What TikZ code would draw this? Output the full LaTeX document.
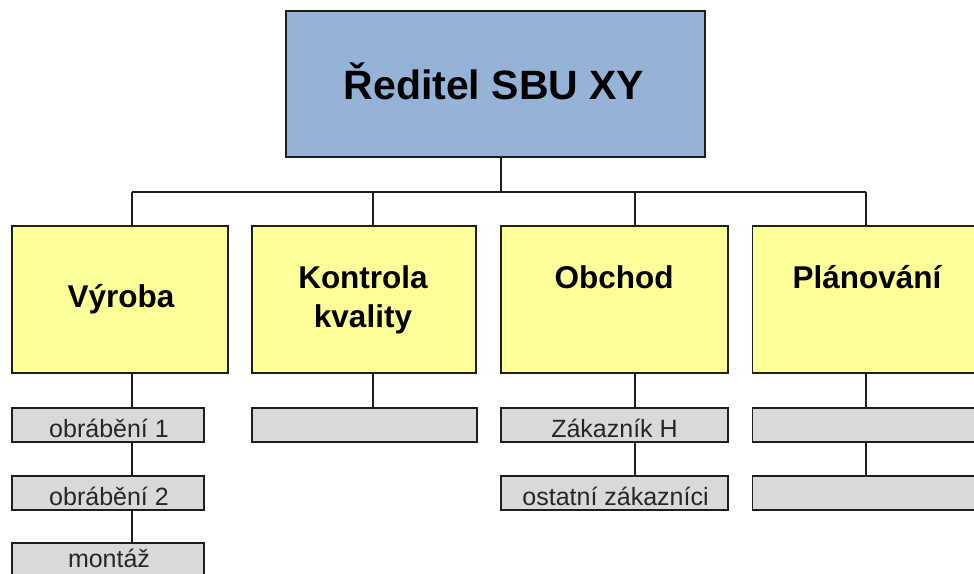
\documentclass[tikz,border=0pt]{standalone}
\usepackage{fontspec}
\setmainfont{Liberation Sans}
\usetikzlibrary{calc}
\definecolor{topblue}{RGB}{149,179,215}
\definecolor{boxyellow}{RGB}{255,255,153}
\definecolor{boxgray}{RGB}{217,217,217}
\definecolor{edge}{RGB}{30,30,30}
\tikzset{
  base/.style={draw=edge, line width=1.8pt, rectangle, inner sep=0pt, outer sep=0pt},
  topbox/.style={base, fill=topblue, minimum width=419pt, minimum height=146pt},
  l2box/.style={base, fill=boxyellow, minimum height=147pt},
  l3box/.style={base, fill=boxgray, minimum height=34pt},
  l2text/.style={font=\bfseries\fontsize{31.5}{42}\selectfont, align=center, inner sep=0pt},
  l3text/.style={font=\fontsize{25}{27}\selectfont, text=black!85, inner sep=0pt},
  conn/.style={draw=edge, line width=1.8pt}
}
\begin{document}
\begin{tikzpicture}[x=1pt,y=-1pt]
\useasboundingbox (0,0) rectangle (974,573);
\clip (0,0) rectangle (974,573);
\fill[white] (0,0) rectangle (974,573);
% drop positions
\coordinate (dtop) at (501,0);
\coordinate (bus) at (0,192);
\coordinate (dA) at (132,0);
\coordinate (dB) at (373,0);
\coordinate (dC) at (635,0);
\coordinate (dD) at (866,0);
% top
\node[topbox] (top) at (495.5,84) {};
\node[font=\bfseries\fontsize{41}{50}\selectfont, inner sep=0pt, anchor=base] at (494,99) {Ředitel SBU XY};
% level 2
\node[l2box, minimum width=216pt] (vyroba) at (120,299.5) {};
\node[l2box, minimum width=224pt] (kontrola) at (364,299.5) {};
\node[l2box, minimum width=227pt] (obchod) at (614.5,299.5) {};
\node[l2box, minimum width=228pt] (plan) at (866.5,299.5) {};
\node[l2text, anchor=base] at (121,307) {Výroba};
\node[l2text, anchor=base] at (363,288) {Kontrola};
\node[l2text, anchor=base] at (363,327) {kvality};
\node[l2text, anchor=base] at (614,288) {Obchod};
\node[l2text, anchor=base] at (867,288) {Plánování};
% level 3
\node[l3box, minimum width=192pt] (v1) at (108,425) {};
\node[l3box, minimum width=192pt] (v2) at (108,493) {};
\node[l3box, minimum width=192pt] (v3) at (108,560) {};
\node[l3box, minimum width=225pt] (k1) at (364.5,425) {};
\node[l3box, minimum width=227pt] (o1) at (614.5,425) {};
\node[l3box, minimum width=227pt] (o2) at (614.5,493) {};
\node[l3box, minimum width=228pt] (p1) at (866.5,425) {};
\node[l3box, minimum width=228pt] (p2) at (866.5,493) {};
\node[l3text, anchor=base] at (109,437) {obrábění 1};
\node[l3text, anchor=base] at (109,505) {obrábění 2};
\node[l3text, anchor=base, text depth=0pt] at (109,567) {montáž};
\node[l3text, anchor=base] at (614.5,437) {Zákazník H};
\node[l3text, anchor=base] at (615.5,505) {ostatní zákazníci};
% connectors
\draw[conn] (top.south -| dtop) -- (bus -| dtop);
\draw[conn] (bus -| dA) -- (bus -| dD);
\draw[conn] (bus -| dA) -- (vyroba.north -| dA);
\draw[conn] (bus -| dB) -- (kontrola.north -| dB);
\draw[conn] (bus -| dC) -- (obchod.north -| dC);
\draw[conn] (bus -| dD) -- (plan.north -| dD);
\draw[conn] (vyroba.south -| dA) -- (v1.north -| dA);
\draw[conn] (v1.south -| dA) -- (v2.north -| dA);
\draw[conn] (v2.south -| dA) -- (v3.north -| dA);
\draw[conn] (kontrola.south -| dB) -- (k1.north -| dB);
\draw[conn] (obchod.south -| dC) -- (o1.north -| dC);
\draw[conn] (o1.south -| dC) -- (o2.north -| dC);
\draw[conn] (plan.south -| dD) -- (p1.north -| dD);
\draw[conn] (p1.south -| dD) -- (p2.north -| dD);
\end{tikzpicture}
\end{document}
